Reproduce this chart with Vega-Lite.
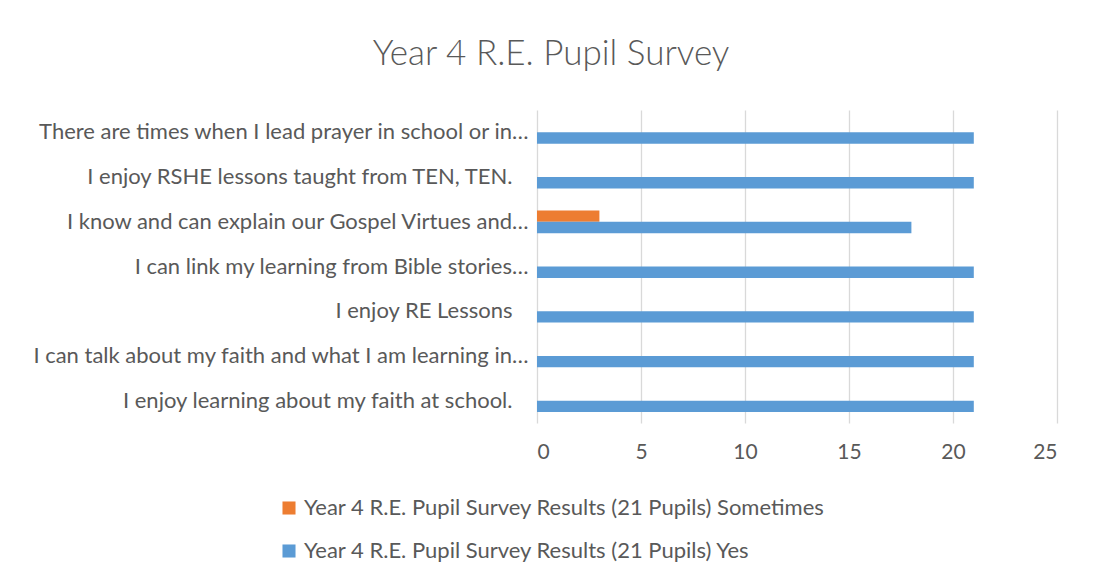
{
  "$schema": "https://vega.github.io/schema/vega-lite/v6.json",
  "autosize": {"type": "none"},
  "width": 520,
  "height": 313,
  "padding": {"left": 537, "top": 110, "right": 37, "bottom": 158},
  "background": "white",
  "title": {
    "text": "Year 4 R.E. Pupil Survey",
    "font": "Lato",
    "fontWeight": 300,
    "fontSize": 35,
    "color": "#595959",
    "anchor": "middle",
    "dx": -246,
    "offset": 38
  },
  "data": {
    "values": [
      {"q": "I enjoy learning about my faith at school.", "series": "Year 4 R.E. Pupil Survey Results (21 Pupils) Sometimes", "v": 0},
      {"q": "I enjoy learning about my faith at school.", "series": "Year 4 R.E. Pupil Survey Results (21 Pupils) Yes", "v": 21},
      {"q": "I can talk about my faith and what I am learning in…", "series": "Year 4 R.E. Pupil Survey Results (21 Pupils) Sometimes", "v": 0},
      {"q": "I can talk about my faith and what I am learning in…", "series": "Year 4 R.E. Pupil Survey Results (21 Pupils) Yes", "v": 21},
      {"q": "I enjoy RE Lessons", "series": "Year 4 R.E. Pupil Survey Results (21 Pupils) Sometimes", "v": 0},
      {"q": "I enjoy RE Lessons", "series": "Year 4 R.E. Pupil Survey Results (21 Pupils) Yes", "v": 21},
      {"q": "I can link my learning from Bible stories…", "series": "Year 4 R.E. Pupil Survey Results (21 Pupils) Sometimes", "v": 0},
      {"q": "I can link my learning from Bible stories…", "series": "Year 4 R.E. Pupil Survey Results (21 Pupils) Yes", "v": 21},
      {"q": "I know and can explain our Gospel Virtues and…", "series": "Year 4 R.E. Pupil Survey Results (21 Pupils) Sometimes", "v": 3},
      {"q": "I know and can explain our Gospel Virtues and…", "series": "Year 4 R.E. Pupil Survey Results (21 Pupils) Yes", "v": 18},
      {"q": "I enjoy RSHE lessons taught from TEN, TEN.", "series": "Year 4 R.E. Pupil Survey Results (21 Pupils) Sometimes", "v": 0},
      {"q": "I enjoy RSHE lessons taught from TEN, TEN.", "series": "Year 4 R.E. Pupil Survey Results (21 Pupils) Yes", "v": 21},
      {"q": "There are times when I lead prayer in school or in…", "series": "Year 4 R.E. Pupil Survey Results (21 Pupils) Sometimes", "v": 0},
      {"q": "There are times when I lead prayer in school or in…", "series": "Year 4 R.E. Pupil Survey Results (21 Pupils) Yes", "v": 21}
    ]
  },
  "mark": {"type": "bar"},
  "encoding": {
    "y": {
      "field": "q",
      "type": "nominal",
      "sort": [
        "There are times when I lead prayer in school or in…",
        "I enjoy RSHE lessons taught from TEN, TEN.",
        "I know and can explain our Gospel Virtues and…",
        "I can link my learning from Bible stories…",
        "I enjoy RE Lessons",
        "I can talk about my faith and what I am learning in…",
        "I enjoy learning about my faith at school."
      ],
      "scale": {"paddingInner": 0.49, "paddingOuter": 0.245},
      "axis": {
        "title": null,
        "ticks": false,
        "domain": false,
        "labelFont": "Lato",
        "labelFontSize": 22,
        "labelColor": "#595959",
        "labelLimit": 600,
        "labelPadding": {"condition": {"test": "indexof(datum.value, '…') < 0", "value": 25}, "value": 9}
      }
    },
    "yOffset": {
      "field": "series",
      "type": "nominal",
      "sort": [
        "Year 4 R.E. Pupil Survey Results (21 Pupils) Sometimes",
        "Year 4 R.E. Pupil Survey Results (21 Pupils) Yes"
      ],
      "scale": {"paddingInner": 0, "paddingOuter": 0}
    },
    "x": {
      "field": "v",
      "type": "quantitative",
      "scale": {"domain": [0, 25]},
      "axis": {
        "title": null,
        "values": [0, 5, 10, 15, 20, 25],
        "ticks": false,
        "domain": false,
        "grid": true,
        "gridColor": "#D9D9D9",
        "gridWidth": 1.3,
        "labelFont": "Lato",
        "labelFontSize": 21,
        "labelColor": "#595959",
        "labelPadding": 18
      }
    },
    "color": {
      "field": "series",
      "type": "nominal",
      "scale": {
        "domain": [
          "Year 4 R.E. Pupil Survey Results (21 Pupils) Sometimes",
          "Year 4 R.E. Pupil Survey Results (21 Pupils) Yes"
        ],
        "range": ["#ED7D31", "#5B9BD5"]
      },
      "legend": {
        "title": null,
        "orient": "none",
        "legendX": -259,
        "legendY": 387,
        "direction": "vertical",
        "symbolType": "square",
        "symbolSize": 170,
        "symbolStrokeWidth": 0,
        "rowPadding": 21,
        "labelFont": "Lato",
        "labelFontSize": 22,
        "labelColor": "#595959",
        "labelLimit": 800,
        "labelOffset": 4
      }
    }
  },
  "config": {
    "view": {"stroke": null}
  }
}
